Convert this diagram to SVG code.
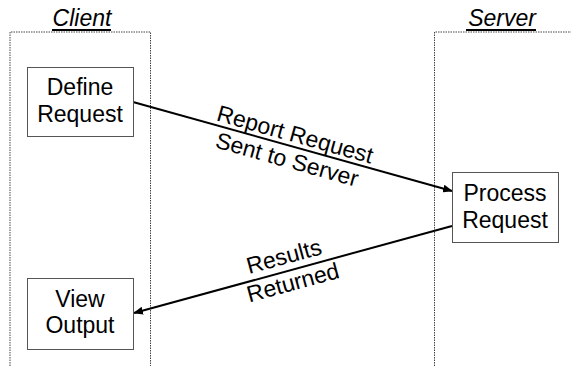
<svg xmlns="http://www.w3.org/2000/svg" width="571" height="366" viewBox="0 0 571 366">
<style>
text{font-family:"Liberation Sans",Arial,sans-serif;font-size:23px;fill:#000;text-anchor:middle}
.title{font-style:italic}
.ul{stroke:#000;stroke-width:2}
.frame{fill:none;stroke:#444;stroke-width:1;stroke-dasharray:1.5,1}
.box{fill:#fff;stroke:#555;stroke-width:1}
.conn{fill:none;stroke:#000;stroke-width:2}
</style>
<defs>
<marker id="ah" markerWidth="10" markerHeight="8" refX="9" refY="4" orient="auto" markerUnits="userSpaceOnUse">
<path d="M0,0 L10,4 L0,8 Z" fill="#000"/>
</marker>
</defs>
<rect width="571" height="366" fill="#fff"/>
<g id="client-lane">
<path class="frame" d="M10,366 V32 H150.5 V366"/>
<text class="title" x="82" y="26">Client</text>
<line class="ul" x1="52" y1="30" x2="111" y2="30"/>
</g>
<g id="server-lane">
<path class="frame" d="M434.5,366 V32 H571"/>
<text class="title" x="502" y="26">Server</text>
<line class="ul" x1="466" y1="30" x2="536" y2="30"/>
</g>
<g id="connectors">
<line class="conn" x1="133" y1="102" x2="452" y2="191" marker-end="url(#ah)"/>
<line class="conn" x1="452" y1="226" x2="134" y2="313" marker-end="url(#ah)"/>
<text transform="translate(293,142) rotate(15.6)">Report Request</text>
<text transform="translate(285,167) rotate(15.6)">Sent to Server</text>
<text transform="translate(286,264) rotate(-15.3)">Results</text>
<text transform="translate(295,290) rotate(-15.3)">Returned</text>
</g>
<g id="define-request">
<rect class="box" x="27.5" y="67.5" width="106" height="69"/>
<text x="80" y="95">Define</text>
<text x="80" y="122">Request</text>
</g>
<g id="process-request">
<rect class="box" x="452.5" y="172.5" width="106" height="70"/>
<text x="505" y="201">Process</text>
<text x="505" y="228">Request</text>
</g>
<g id="view-output">
<rect class="box" x="27.5" y="278.5" width="106" height="71"/>
<text x="80" y="307">View</text>
<text x="80" y="333">Output</text>
</g>
</svg>
